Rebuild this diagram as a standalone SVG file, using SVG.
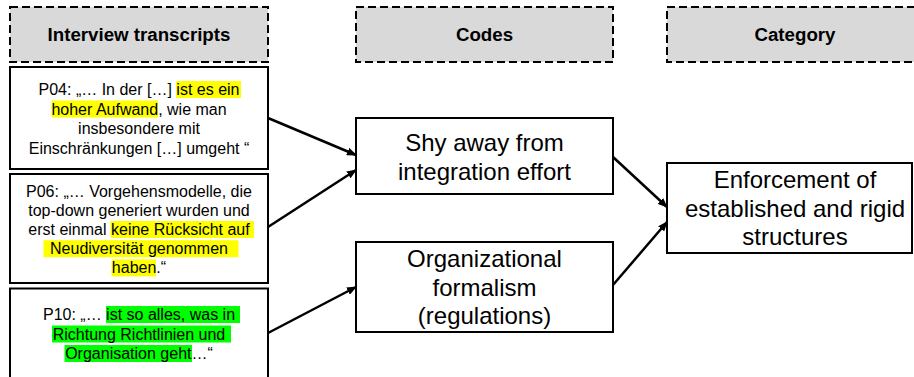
<svg xmlns="http://www.w3.org/2000/svg" width="914" height="377" viewBox="0 0 914 377">
<style>
text{font-family:"Liberation Sans",Arial,sans-serif;fill:#000}
.hdr rect{fill:#d9d9d9;stroke:#000;stroke-width:2;stroke-dasharray:8 4}
.hdr text{font-weight:bold;font-size:18.7px;text-anchor:middle}
.box{fill:#fff;stroke:#000;stroke-width:2}
.q{font-size:16px;text-anchor:middle}
.c{font-size:24px;text-anchor:middle}
.y{fill:#ffff00}
.g{fill:#00ff00}
.con line{stroke:#000;stroke-width:2.5;marker-end:url(#ah)}
</style>
<defs>
<marker id="ah" markerUnits="userSpaceOnUse" markerWidth="10" markerHeight="8" refX="9" refY="4" orient="auto">
<path d="M0,0 L10,4 L0,8 Z" fill="#000"/>
</marker>
</defs>
<rect width="914" height="377" fill="#fff"/>
<g id="hdr-interview" class="hdr"><rect x="10" y="7" width="258" height="55"/><text x="139" y="41">Interview transcripts</text></g>
<g id="hdr-codes" class="hdr"><rect x="356" y="7" width="257" height="55"/><text x="484.5" y="41">Codes</text></g>
<g id="hdr-category" class="hdr"><rect x="667" y="7" width="257" height="55"/><text x="795" y="41">Category</text></g>

<g id="p04">
<rect class="box" x="10" y="67" width="258" height="102"/>
<rect class="y" x="176" y="81" width="65" height="17"/>
<rect class="y" x="51.5" y="100.5" width="106.5" height="17"/>
<text class="q" x="139" y="95">P04: „… In der […] ist es ein</text>
<text class="q" x="139" y="114.5">hoher Aufwand, wie man</text>
<text class="q" x="139" y="134">insbesondere mit</text>
<text class="q" x="139" y="153.5">Einschränkungen […] umgeht “</text>
</g>

<g id="p06">
<rect class="box" x="10" y="174" width="258" height="109"/>
<rect class="y" x="110.5" y="221" width="143.5" height="17"/>
<rect class="y" x="43.5" y="240.2" width="195" height="17"/>
<rect class="y" x="111.5" y="259.4" width="44.5" height="17"/>
<text class="q" x="139" y="196.5">P06: „… Vorgehensmodelle, die</text>
<text class="q" x="139" y="215.7">top-down generiert wurden und</text>
<text class="q" x="139" y="234.9">erst einmal keine Rücksicht auf</text>
<text class="q" x="139" y="254.1">Neudiversität genommen</text>
<text class="q" x="139" y="273.3">haben.“</text>
</g>

<g id="p10">
<rect class="box" x="10" y="288.5" width="258" height="110"/>
<rect class="g" x="106" y="306" width="134" height="17"/>
<rect class="g" x="52" y="325.5" width="179" height="17"/>
<rect class="g" x="64.5" y="345" width="127.5" height="17"/>
<text class="q" x="139" y="320">P10: „… ist so alles, was in</text>
<text class="q" x="139" y="339.5">Richtung Richtlinien und</text>
<text class="q" x="139" y="359">Organisation geht…“</text>
</g>

<g id="code-shy">
<rect class="box" x="356" y="118" width="257" height="76"/>
<text class="c" x="484.5" y="151">Shy away from</text>
<text class="c" x="484.5" y="179.8">integration effort</text>
</g>

<g id="code-formalism">
<rect class="box" x="356" y="242" width="257" height="90"/>
<text class="c" x="484.5" y="266.7">Organizational</text>
<text class="c" x="484.5" y="295.5">formalism</text>
<text class="c" x="484.5" y="324.3">(regulations)</text>
</g>

<g id="cat-enforcement">
<rect class="box" x="667" y="163" width="245" height="90"/>
<text class="c" x="795" y="188.3">Enforcement of</text>
<text class="c" x="795" y="216.7">established and rigid</text>
<text class="c" x="795" y="244.5">structures</text>
</g>

<g id="connectors" class="con">
<line x1="268" y1="118" x2="356" y2="155"/>
<line x1="268" y1="227" x2="356" y2="170"/>
<line x1="268" y1="333" x2="356" y2="287"/>
<line x1="613" y1="157" x2="667" y2="207"/>
<line x1="613" y1="285" x2="667" y2="222"/>
</g>
</svg>
